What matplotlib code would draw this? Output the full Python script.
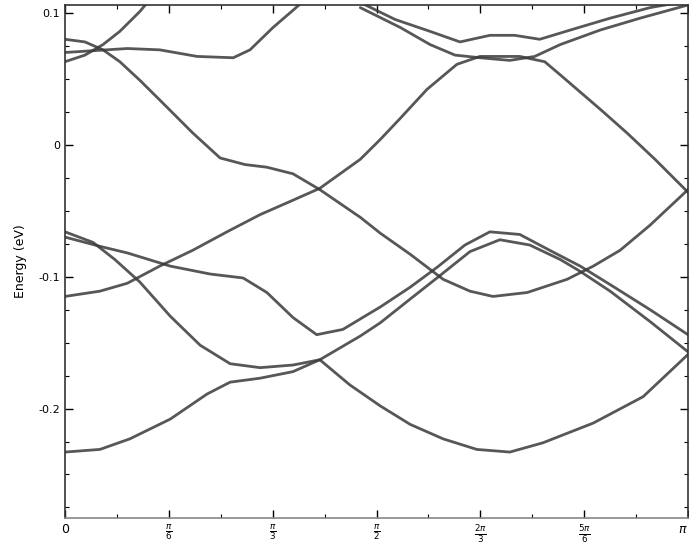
import matplotlib
matplotlib.use("Agg")
import matplotlib.pyplot as plt
from matplotlib.ticker import MultipleLocator

# ---- data ----
band_d1_x = [0, 0.032, 0.061, 0.088, 0.120, 0.152, 0.205, 0.249, 0.289, 0.324, 0.366, 0.409,
             0.474, 0.506, 0.554, 0.607, 0.650, 0.687, 0.742, 0.806, 0.848, 0.891, 0.939, 1.0]
band_d1_y = [0.080, 0.078, 0.072, 0.063, 0.049, 0.034, 0.009, -0.010, -0.015, -0.017, -0.022, -0.034,
             -0.055, -0.067, -0.083, -0.102, -0.111, -0.115, -0.112, -0.102, -0.092, -0.080, -0.061, -0.034]

band_c_x = [0, 0.056, 0.100, 0.152, 0.205, 0.260, 0.313, 0.366, 0.409, 0.474, 0.506, 0.538,
            0.581, 0.629, 0.666, 0.698, 0.730, 0.770, 0.795, 0.827, 0.859, 0.902, 0.947, 1.0]
band_c_y = [-0.115, -0.111, -0.105, -0.092, -0.080, -0.066, -0.053, -0.042, -0.033, -0.011, 0.004, 0.020,
            0.042, 0.061, 0.067, 0.067, 0.067, 0.063, 0.053, 0.040, 0.027, 0.009, -0.011, -0.036]

band_a_x = [0, 0.045, 0.080, 0.120, 0.169, 0.217, 0.265, 0.313, 0.366, 0.409,
            0.457, 0.506, 0.554, 0.607, 0.661, 0.714, 0.767, 0.848, 0.928, 1.0]
band_a_y = [-0.066, -0.074, -0.087, -0.104, -0.130, -0.152, -0.166, -0.169, -0.167, -0.163,
            -0.182, -0.198, -0.212, -0.223, -0.231, -0.233, -0.226, -0.211, -0.191, -0.159]

band_a2_x = [0, 0.056, 0.100, 0.169, 0.233, 0.286, 0.324, 0.366, 0.404, 0.446, 0.506,
             0.554, 0.597, 0.642, 0.682, 0.730, 0.778, 0.827, 0.875, 0.939, 1.0]
band_a2_y = [-0.070, -0.077, -0.082, -0.092, -0.098, -0.101, -0.112, -0.131, -0.144, -0.140, -0.123,
             -0.108, -0.093, -0.076, -0.066, -0.068, -0.080, -0.092, -0.106, -0.125, -0.144]

band_c1_x = [0, 0.056, 0.104, 0.169, 0.228, 0.265, 0.313, 0.366, 0.409, 0.474, 0.506,
             0.554, 0.597, 0.650, 0.698, 0.746, 0.795, 0.827, 0.875, 0.939, 1.0]
band_c1_y = [-0.233, -0.231, -0.223, -0.208, -0.189, -0.180, -0.177, -0.172, -0.163, -0.145, -0.135,
             -0.117, -0.101, -0.081, -0.072, -0.076, -0.087, -0.096, -0.111, -0.134, -0.157]

band_t1_x = [0, 0.100, 0.152, 0.212, 0.270, 0.297, 0.334, 0.366, 0.385]
band_t1_y = [0.070, 0.073, 0.072, 0.067, 0.066, 0.072, 0.089, 0.102, 0.110]

band_t3_x = [0, 0.032, 0.061, 0.088, 0.120, 0.136]
band_t3_y = [0.063, 0.068, 0.076, 0.086, 0.101, 0.110]

band_tl1_x = [0.465, 0.530, 0.586, 0.634, 0.682, 0.722, 0.762, 0.811, 0.875, 0.939, 0.987]
band_tl1_y = [0.110, 0.095, 0.086, 0.078, 0.083, 0.083, 0.080, 0.087, 0.096, 0.104, 0.108]

band_tl2_x = [0.474, 0.538, 0.586, 0.626, 0.666, 0.714, 0.754, 0.795, 0.859, 0.923, 1.0]
band_tl2_y = [0.104, 0.089, 0.076, 0.068, 0.066, 0.064, 0.067, 0.076, 0.087, 0.096, 0.106]

x_ticks = [0, 1/6, 2/6, 3/6, 4/6, 5/6, 1]
x_tick_labels = ["0", r"$\frac{\pi}{6}$", r"$\frac{\pi}{3}$", r"$\frac{\pi}{2}$",
                 r"$\frac{2\pi}{3}$", r"$\frac{5\pi}{6}$", r"$\pi$"]
y_ticks = [0.1, 0.0, -0.1, -0.2]
y_tick_labels = ["0.1", "0", "-0.1", "-0.2"]

bands = [
    (band_d1_x, band_d1_y), (band_c_x, band_c_y), (band_a_x, band_a_y),
    (band_a2_x, band_a2_y), (band_c1_x, band_c1_y), (band_t1_x, band_t1_y),
    (band_t3_x, band_t3_y), (band_tl1_x, band_tl1_y), (band_tl2_x, band_tl2_y),
]

fig = plt.figure(figsize=(6.89, 5.45), dpi=100)
ax = fig.add_axes([65/689, 1 - 518/545, 623/689, 513/545])

for bx, by in bands:
    ax.plot(bx, by, color="#3a3a3a", lw=2.0, alpha=0.85, solid_capstyle="round")

ax.set_xlim(0, 1)
ax.set_ylim(-0.283, 0.106)
ax.set_xticks(x_ticks)
ax.set_xticklabels(x_tick_labels, fontsize=9)
ax.get_xticklabels()[-1].set_horizontalalignment("right")
ax.set_yticks(y_ticks)
ax.set_yticklabels(y_tick_labels, fontsize=8)
ax.xaxis.set_minor_locator(MultipleLocator(1/12))
ax.yaxis.set_minor_locator(MultipleLocator(0.025))
ax.tick_params(which="both", direction="in", top=True, right=True)
ax.tick_params(which="major", length=6, width=1)
ax.tick_params(which="minor", length=3, width=0.8)
ax.set_ylabel("Energy (eV)", fontsize=9, labelpad=8)
for name, s in ax.spines.items():
    s.set_linewidth(1.2)
    s.set_color("#333333")
ax.spines["bottom"].set_color("#888888")

fig.savefig("out.png", dpi=100)
